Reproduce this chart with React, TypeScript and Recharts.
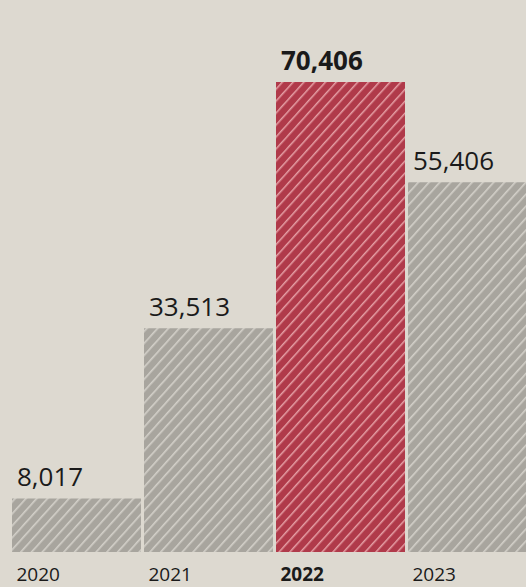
import { BarChart, Bar, XAxis, YAxis, Cell } from 'recharts';

const years = ['2020', '2021', '2022', '2023'];
const totals = [8017, 33513, 70406, 55406];
const highlightYear = '2022';

const data = years.map((year, i) => ({ year, total: totals[i] }));

const paper = '#ddd9d0';
const fontFamily = '"Open Sans", "Noto Sans", sans-serif';

const formatNumber = (value: number) => new Intl.NumberFormat('en-US').format(value);

const YearTick = (props: any) => {
  const { x, y, payload } = props;
  const bold = payload.value === highlightYear;
  return (
    <text
      x={x - 64.5 + 5}
      y={y + 21}
      textAnchor="start"
      fontSize={19}
      fontWeight={bold ? 700 : 400}
      fill="#1a1a1a"
      fontFamily={fontFamily}
    >
      {payload.value}
    </text>
  );
};

const ValueLabel = (props: any) => {
  const { x, y, value, index } = props;
  const bold = years[index] === highlightYear;
  return (
    <text
      x={x + 5}
      y={y - 12}
      textAnchor="start"
      fontSize={26}
      fontWeight={bold ? 700 : 400}
      fill="#1a1a1a"
      fontFamily={fontFamily}
    >
      {formatNumber(value)}
    </text>
  );
};

export default function App() {
  return (
    <div style={{ width: 526, height: 587, overflow: 'hidden', background: paper, position: 'relative' }}>
      <style>{'body { margin: 0; }'}</style>
      <BarChart
        width={540}
        height={587}
        data={data}
        margin={{ top: 82, right: 2, left: 10, bottom: 0 }}
        barSize={129}
      >
        <defs>
          <pattern id="hatchGrey" patternUnits="userSpaceOnUse" width="8" height="8" patternTransform="rotate(42)">
            <rect width="8" height="8" fill="#a8a59e" />
            <rect x="0" y="0" width="1.6" height="8" fill="#d3d0c9" />
          </pattern>
          <pattern id="hatchRed" patternUnits="userSpaceOnUse" width="8" height="8" patternTransform="rotate(42)">
            <rect width="8" height="8" fill="#b03a4a" />
            <rect x="0" y="0" width="1.5" height="8" fill="#e6a0a6" />
          </pattern>
        </defs>
        <XAxis
          dataKey="year"
          axisLine={false}
          tickLine={false}
          height={35}
          interval={0}
          tick={<YearTick />}
        />
        <YAxis hide domain={[0, 70406]} />
        <Bar dataKey="total" isAnimationActive={false} label={<ValueLabel />}>
          {data.map((d) => (
            <Cell key={d.year} fill={d.year === highlightYear ? 'url(#hatchRed)' : 'url(#hatchGrey)'} />
          ))}
        </Bar>
      </BarChart>
    </div>
  );
}
